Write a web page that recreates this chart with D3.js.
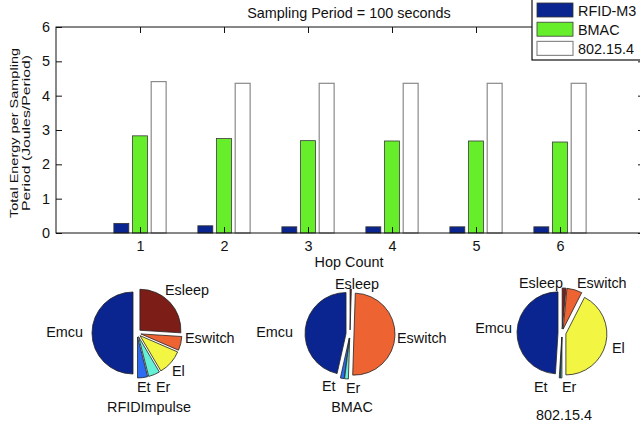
<!DOCTYPE html>
<html>
<head>
<meta charset="utf-8">
<script src="https://cdn.jsdelivr.net/npm/d3@7"></script>
<style>
body { margin: 0; background: #fff; }
text { font-family: "Liberation Sans", Arial, sans-serif; fill: #111; }
</style>
</head>
<body>
<svg width="640" height="428"></svg>
<script>
// bar chart data
let hops = [1, 2, 3, 4, 5, 6]
let seriesNames = ['RFID-M3', 'BMAC', '802.15.4']
let rfidValues = [0.28, 0.21, 0.18, 0.18, 0.18, 0.18]
let bmacValues = [2.83, 2.75, 2.69, 2.68, 2.68, 2.65]
let ieeeValues = [4.41, 4.36, 4.36, 4.36, 4.36, 4.36]
let yTicks = [0, 1, 2, 3, 4, 5, 6]

// pie data (percent of energy), order as drawn by matlab: ccw from the top
let sliceNames = ['Emcu', 'Et', 'Er', 'El', 'Eswitch', 'Esleep']
let rfidImpulseShares = [50, 4, 4.5, 10, 5.5, 26]
let bmacShares = [46.5, 1.5, 1.5, 0, 50, 0.5]
let ieeeShares = [49, 0.5, 0.5, 42.5, 6, 1.5]
let pieTitles = ['RFIDImpulse', 'BMAC', '802.15.4']

let seriesColors = ['#0b2590', '#66ee2b', '#ffffff']
let seriesStroke = ['#333', '#3a3a3a', '#8a8a8a']
let sliceColors = ['#0a2590', '#2c6cf2', '#66f0d6', '#f2f542', '#ee6332', '#7c1e17']

let svg = d3.select('svg')
let fontSize = '14.4px'

let plotLeft = 56, plotRight = 644, plotTop = 27, plotBottom = 233

let xScale = d3.scaleLinear().domain([0, 7]).range([plotLeft, plotRight])
let yScale = d3.scaleLinear().domain([0, 6]).range([plotBottom, plotTop])
let groupWidth = (xScale(1) - xScale(0)) * 2 / 3
let inner = d3.scaleBand()
    .domain(seriesNames)
    .range([-groupWidth / 2, groupWidth / 2])
    .paddingInner(0.2)
    .paddingOuter(0.1)

let allSeries = [rfidValues, bmacValues, ieeeValues]

// bars
allSeries.forEach((vals, s) => {
    svg.append('g').selectAll('rect')
        .data(vals)
        .enter()
        .append('rect')
        .attr('x', (d, i) => xScale(hops[i]) + inner(seriesNames[s]))
        .attr('width', inner.bandwidth())
        .attr('y', d => yScale(d))
        .attr('height', d => yScale(0) - yScale(d))
        .attr('fill', seriesColors[s])
        .attr('stroke', seriesStroke[s])
        .attr('stroke-width', s == 2 ? 1.2 : 0.8)
})

// axes box
svg.append('rect')
    .attr('x', plotLeft).attr('y', plotTop)
    .attr('width', plotRight - plotLeft).attr('height', plotBottom - plotTop)
    .attr('fill', 'none').attr('stroke', '#111').attr('stroke-width', 1)

let yAxis = d3.axisLeft(yScale).tickValues(yTicks).tickFormat(d3.format('d')).tickSize(-6).tickPadding(6)
let xAxis = d3.axisBottom(xScale).tickValues(hops).tickFormat(d3.format('d')).tickSize(-6).tickPadding(8)

svg.append('g').attr('transform', 'translate(' + plotLeft + ',0)').call(yAxis)
svg.append('g').attr('transform', 'translate(0,' + plotBottom + ')').call(xAxis)
svg.append('g').attr('transform', 'translate(0,' + plotTop + ')')
    .call(d3.axisTop(xScale).tickValues(hops).tickSize(-6).tickFormat(''))
svg.append('g').attr('transform', 'translate(' + plotRight + ',0)')
    .call(d3.axisRight(yScale).tickValues(yTicks).tickSize(-6).tickFormat(''))

svg.selectAll('.domain').remove()
svg.selectAll('.tick line').attr('stroke', '#111')
svg.selectAll('.tick text').style('font-size', fontSize).attr('fill', '#111')

// titles
svg.append('text')
    .attr('x', 349).attr('y', 18)
    .attr('text-anchor', 'middle')
    .style('font-size', fontSize)
    .text('Sampling Period = 100 seconds')

svg.append('text')
    .attr('x', 349).attr('y', 267)
    .attr('text-anchor', 'middle')
    .style('font-size', fontSize)
    .text('Hop Count')

// y label is squeezed across its height in the original, so stretch it along its length
let yLabel = svg.append('g')
    .attr('transform', 'translate(17.5,133) rotate(-90)')
yLabel.append('text')
    .attr('x', -85).attr('y', 0)
    .attr('textLength', 170).attr('lengthAdjust', 'spacingAndGlyphs')
    .style('font-size', '11px')
    .text('Total Energy per Sampling')
yLabel.append('text')
    .attr('x', -78).attr('y', 12.5)
    .attr('textLength', 156).attr('lengthAdjust', 'spacingAndGlyphs')
    .style('font-size', '11px')
    .text('Period (Joules/Period)')

// legend
let legend = svg.append('g')
legend.append('rect')
    .attr('x', 532).attr('y', -5).attr('width', 120).attr('height', 65)
    .attr('fill', '#fff').attr('stroke', '#111').attr('stroke-width', 1.2)
seriesNames.forEach((name, i) => {
    legend.append('rect')
        .attr('x', 537).attr('y', 3 + i * 19.2)
        .attr('width', 36).attr('height', 14)
        .attr('fill', seriesColors[i])
        .attr('stroke', seriesStroke[i])
        .attr('stroke-width', i == 2 ? 1.2 : 0.8)
    legend.append('text')
        .attr('x', 578).attr('y', 10.5 + i * 19.2)
        .attr('dy', '0.35em')
        .style('font-size', fontSize)
        .text(name)
})

// pies
let pieSets = [rfidImpulseShares, bmacShares, ieeeShares]
let pieCenters = [[137, 333], [350, 334], [562, 333]]
let pieTitlePos = [[149, 407], [352, 407], [564, 415]]
let radius = 41
let explode = 4

// hand placed label spots (offset from the pie centre, anchor)
let labelSpots = [
    { Emcu: [-54, -1, 'end'], Et: [0, 54, 'start'], Er: [19, 54, 'start'], El: [35, 38, 'start'], Eswitch: [48, 5, 'start'], Esleep: [28, -43, 'start'] },
    { Emcu: [-57, -2, 'end'], Et: [-28, 52, 'start'], Er: [-4, 54, 'start'], Eswitch: [47, 4, 'start'], Esleep: [-15, -50, 'start'] },
    { Emcu: [-50, -5, 'end'], Et: [-28, 54, 'start'], Er: [0, 54, 'start'], El: [50, 15, 'start'], Eswitch: [15, -50, 'start'], Esleep: [1, -50, 'end'] }
]

let pie = d3.pie().sort(null).startAngle(0).endAngle(-2 * Math.PI)
let arc = d3.arc().innerRadius(0).outerRadius(radius)

pieSets.forEach((shares, p) => {
    let g = svg.append('g')
        .attr('transform', 'translate(' + pieCenters[p][0] + ',' + pieCenters[p][1] + ')')
    let slices = pie(shares).map((d, i) => ({ ...d, name: sliceNames[i], color: sliceColors[i] }))
        .filter(d => d.value > 0)

    g.selectAll('path')
        .data(slices)
        .enter()
        .append('path')
        .attr('d', arc)
        .attr('fill', d => d.color)
        .attr('stroke', '#222')
        .attr('stroke-width', 0.8)
        .attr('transform', d => {
            let a = (d.startAngle + d.endAngle) / 2
            return 'translate(' + (Math.sin(a) * explode) + ',' + (-Math.cos(a) * explode) + ')'
        })

    g.selectAll('text')
        .data(slices)
        .enter()
        .append('text')
        .attr('x', d => labelSpots[p][d.name][0])
        .attr('y', d => labelSpots[p][d.name][1])
        .attr('dy', '0.35em')
        .attr('text-anchor', d => labelSpots[p][d.name][2])
        .style('font-size', fontSize)
        .text(d => d.name)

    svg.append('text')
        .attr('x', pieTitlePos[p][0]).attr('y', pieTitlePos[p][1])
        .attr('dy', '0.35em')
        .attr('text-anchor', 'middle')
        .style('font-size', fontSize)
        .text(pieTitles[p])
})
</script>
</body>
</html>
